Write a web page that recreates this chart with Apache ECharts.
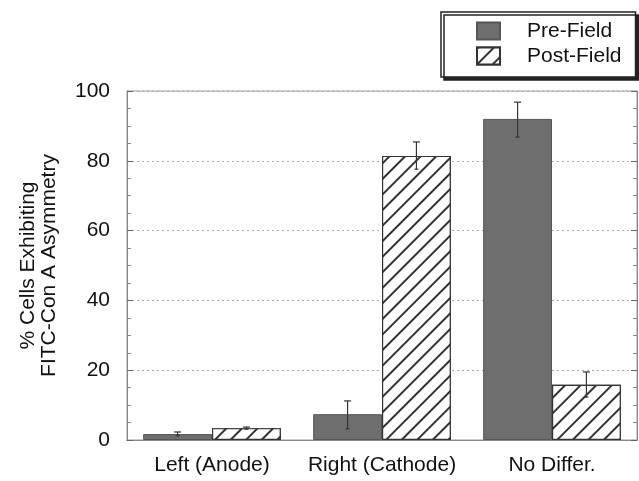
<!DOCTYPE html>
<html><head><meta charset="utf-8">
<script src="https://cdn.jsdelivr.net/npm/echarts@6/dist/echarts.min.js"></script>
<style>html,body{margin:0;padding:0;background:#fff}#c{width:639px;height:481px}</style>
</head><body><div id="c"></div>
<script>
var categories = ['Left (Anode)', 'Right (Cathode)', 'No Differ.'];
var seriesNames = ['Pre-Field', 'Post-Field'];
var preField = [1.7, 7.4, 92.0];
var postField = [3.4, 81.4, 15.8];
var preErrLow = [1.2, 3.2, 86.8];
var preErrHigh = [2.3, 11.2, 96.8];
var postErrLow = [3.1, 77.6, 12.3];
var postErrHigh = [3.7, 85.4, 19.5];
var yTicks = [0, 20, 40, 60, 80, 100];

var FONT = 'Liberation Sans, Arial, Helvetica, sans-serif';
var FS = 21;
var chart = echarts.init(document.getElementById('c'));

function errSeries(idx, low, high) {
  return {
    type: 'custom', xAxisIndex: 0, yAxisIndex: 0, z: 5, silent: true,
    data: categories.map(function (c, i) { return [i, low[i], high[i]]; }),
    renderItem: function (params, api) {
      var cat = api.value(0);
      var lo = api.coord([cat, api.value(1)]);
      var hi = api.coord([cat, api.value(2)]);
      var bandW = api.size([1, 0])[0];
      var bw = bandW * 0.81 / 2;
      var x = lo[0] + (idx === 0 ? -bw / 2 : bw / 2);
      var st = { stroke: '#333', lineWidth: 1.2 };
      return { type: 'group', children: [
        { type: 'line', shape: { x1: x, y1: lo[1], x2: x, y2: hi[1] }, style: st },
        { type: 'line', shape: { x1: x - 3.5, y1: hi[1], x2: x + 3.5, y2: hi[1] }, style: st },
        { type: 'line', shape: { x1: x - 2, y1: lo[1], x2: x + 2, y2: lo[1] }, style: st }
      ]};
    }
  };
}

var option = {
  animation: false,
  backgroundColor: '#fff',
  grid: { left: 127, right: 2, top: 91, bottom: 41, show: true, borderColor: '#999', borderWidth: 1 },
  legend: {
    orient: 'vertical', left: 441, top: 12,
    padding: [8, 14, 10, 35], itemWidth: 23, itemHeight: 17, itemGap: 3,
    icon: 'rect',
    borderColor: '#222', borderWidth: 1.5,
    backgroundColor: '#fff',
    shadowColor: '#222', shadowOffsetX: 3, shadowOffsetY: 3, shadowBlur: 0,
    textStyle: { fontFamily: FONT, fontSize: FS, color: '#111', lineHeight: 22, padding: [0, 0, 0, 22] },
    data: seriesNames
  },
  xAxis: [{
    type: 'category', data: categories, position: 'bottom',
    axisLine: { lineStyle: { color: '#888' } },
    axisTick: { inside: true, length: 8, lineStyle: { color: '#666' } },
    axisLabel: { fontFamily: FONT, fontSize: FS, color: '#111', margin: 15, interval: 0 }
  }, {
    type: 'category', data: categories, position: 'top',
    axisLine: { lineStyle: { color: '#888' } },
    axisTick: { inside: true, length: 8, lineStyle: { color: '#666' } },
    axisLabel: { show: false }
  }],
  yAxis: [{
    type: 'value', min: 0, max: 100, interval: 20,
    name: '% Cells Exhibiting\nFITC-Con A Asymmetry',
    nameLocation: 'middle', nameGap: 67, nameRotate: 90,
    nameTextStyle: { fontFamily: FONT, fontSize: FS, color: '#111', lineHeight: 21 },
    axisLine: { show: true, lineStyle: { color: '#888' } },
    axisTick: { show: true, inside: true, length: 6, lineStyle: { color: '#666' } },
    minorTick: { show: true, splitNumber: 4, length: 4, lineStyle: { color: '#888' } },
    axisLabel: { fontFamily: FONT, fontSize: FS, color: '#111', margin: 17,
      formatter: function (v) { return yTicks.indexOf(v) >= 0 ? String(v) : ''; } },
    splitLine: { show: true, lineStyle: { color: '#aaa', type: [2, 3], width: 1 } }
  }, {
    type: 'value', min: 0, max: 100, interval: 20, position: 'right',
    axisLine: { show: true, lineStyle: { color: '#888' } },
    axisTick: { show: true, inside: true, length: 6, lineStyle: { color: '#666' } },
    minorTick: { show: true, splitNumber: 4, length: 4, lineStyle: { color: '#888' } },
    axisLabel: { show: false }, splitLine: { show: false }
  }],
  series: [{
    name: seriesNames[0], type: 'bar', data: preField, barGap: '0%', barCategoryGap: '19%',
    itemStyle: { color: '#6e6e6e', borderColor: '#555', borderWidth: 1 }
  }, {
    name: seriesNames[1], type: 'bar', data: postField, barGap: '0%', barCategoryGap: '19%',
    itemStyle: { color: '#fff', borderColor: '#333', borderWidth: 1.2,
      decal: { color: '#333', backgroundColor: '#fff', symbol: 'rect', dashArrayX: [[1, 0]], dashArrayY: [2, 9], rotation: -Math.PI / 4, symbolSize: 1 } }
  }, errSeries(0, preErrLow, preErrHigh), errSeries(1, postErrLow, postErrHigh)]
};
chart.setOption(option);
</script></body></html>
